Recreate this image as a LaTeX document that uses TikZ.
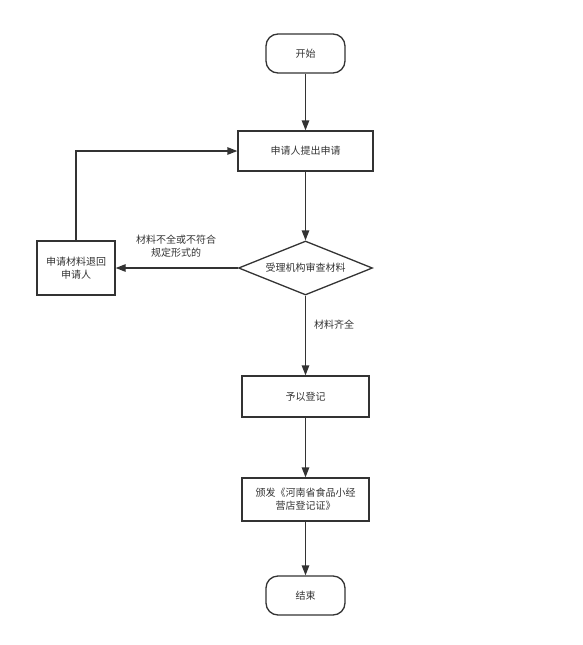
\documentclass[tikz,border=0pt]{standalone}
\usepackage{fontspec}
\setmainfont{Noto Sans CJK SC}
\usetikzlibrary{shapes.geometric,arrows.meta}
\definecolor{ln}{HTML}{333333}
\begin{document}
\begin{tikzpicture}[x=1pt,y=-1pt,
  every node/.style={font=\fontsize{10}{13}\selectfont, text=ln},
  base/.style={draw=ln, line width=1.3pt, inner sep=0pt, align=center},
  term/.style={base, rounded corners=12pt, minimum width=79pt, minimum height=39pt},
  proc/.style={base, minimum width=127pt, minimum height=41pt},
  arr/.style={draw=ln, line width=1.3pt, -{Triangle[length=10pt,width=7.5pt]}},
  lbl/.style={align=center, font=\fontsize{10}{12.5}\selectfont}]
\useasboundingbox (0,0) rectangle (583,645);
\node[term] (start) at (305.5,53.5) {开始};
\node[proc, minimum width=135pt, minimum height=40pt] (apply) at (305.5,151) {申请人提出申请};
\node[base, diamond, minimum width=134pt, minimum height=54pt] (check) at (305.5,268) {};
\node at (check.center) {受理机构审查材料};
\node[base, minimum width=78pt, minimum height=54pt] (ret) at (76,268) {申请材料退回\\申请人};
\node[proc] (reg) at (305.5,396.5) {予以登记};
\node[proc, minimum height=43pt] (cert) at (305.5,499.5) {颁发《河南省食品小经\\营店登记证》};
\node[term] (end) at (305.5,595.5) {结束};
\draw[arr] (start) -- (apply);
\draw[arr] (apply) -- (check.north);
\draw[arr] (check.west) -- (ret.east);
\node[lbl] (l1) at (176,246) {材料不全或不符合\\规定形式的};
\draw[arr] (check.south) -- (reg.north);
\node[lbl] (l2) at (334,325) {材料齐全};
\draw[arr] (reg) -- (cert);
\draw[arr] (cert) -- (end);
\draw[arr] (ret.north) |- (apply.west);
\end{tikzpicture}
\end{document}
